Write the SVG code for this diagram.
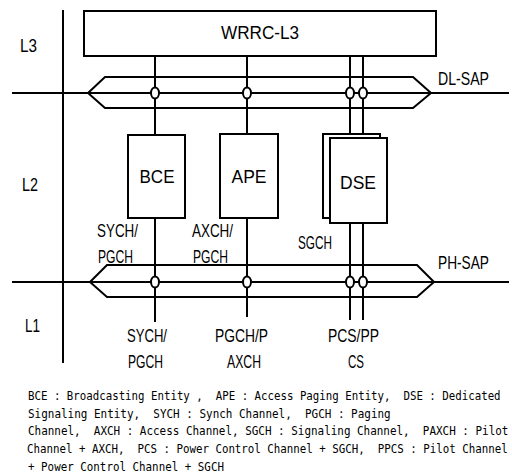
<svg xmlns="http://www.w3.org/2000/svg" width="512" height="474" viewBox="0 0 512 474">
<style>
.ln{stroke:#000;stroke-width:2;fill:none}
.bus{stroke:#000;stroke-width:2;fill:none;stroke-linejoin:miter}
.box{stroke:#000;stroke-width:2;fill:#fff}
.dot{stroke:#000;stroke-width:2;fill:#fff}
.lbl{font-family:"Liberation Sans",Arial,sans-serif;font-size:19px;fill:#000}
.nm{font-family:"Liberation Sans",Arial,sans-serif;font-size:19px;fill:#000;text-anchor:middle}
.cap{font-family:"DejaVu Sans Mono","Liberation Mono",monospace;font-size:13px;fill:#000;white-space:pre}
</style>
<rect width="512" height="474" fill="#fff"/>
<line class="ln" x1="63" y1="10" x2="63" y2="363"/>
<text class="lbl" x="20" y="52" textLength="17" lengthAdjust="spacingAndGlyphs">L3</text>
<text class="lbl" x="22" y="191" textLength="16" lengthAdjust="spacingAndGlyphs">L2</text>
<text class="lbl" x="25" y="332" textLength="15" lengthAdjust="spacingAndGlyphs">L1</text>

<g id="wrrc">
<rect class="box" x="84" y="11" width="352" height="45"/>
<text class="nm" x="260" y="39" textLength="78" lengthAdjust="spacingAndGlyphs">WRRC-L3</text>
</g>

<g id="connectors">
<line class="ln" x1="155" y1="56" x2="155" y2="135"/>
<line class="ln" x1="247" y1="56" x2="247" y2="134"/>
<line class="ln" x1="350" y1="56" x2="350" y2="134"/>
<line class="ln" x1="363" y1="56" x2="363" y2="134"/>
<line class="ln" x1="155" y1="218" x2="155" y2="322"/>
<line class="ln" x1="247" y1="218" x2="247" y2="317"/>
<line class="ln" x1="350" y1="223" x2="350" y2="320"/>
<line class="ln" x1="363" y1="223" x2="363" y2="320"/>
</g>

<g id="dl-sap">
<line class="ln" x1="12" y1="93" x2="509" y2="93"/>
<polygon class="bus" points="105,77 413,77 431,93 413,108 105,108 88,93"/>
<ellipse class="dot" cx="155" cy="93" rx="4" ry="5.5"/>
<ellipse class="dot" cx="247" cy="93" rx="4" ry="5.5"/>
<ellipse class="dot" cx="350" cy="93" rx="4" ry="5.5"/>
<ellipse class="dot" cx="363" cy="93" rx="4" ry="5.5"/>
<text class="lbl" x="438" y="85" textLength="51" lengthAdjust="spacingAndGlyphs">DL-SAP</text>
</g>

<g id="ph-sap">
<line class="ln" x1="12" y1="282" x2="509" y2="282"/>
<polygon class="bus" points="107,265 417,265 434,282 417,297 107,297 90,282"/>
<ellipse class="dot" cx="155" cy="282" rx="4" ry="5.5"/>
<ellipse class="dot" cx="247" cy="282" rx="4" ry="5.5"/>
<ellipse class="dot" cx="350" cy="282" rx="4" ry="5.5"/>
<ellipse class="dot" cx="363" cy="282" rx="4" ry="5.5"/>
<text class="lbl" x="438" y="269" textLength="51" lengthAdjust="spacingAndGlyphs">PH-SAP</text>
</g>

<g id="bce">
<rect class="box" x="128" y="135" width="57" height="83"/>
<text class="nm" x="157" y="183" textLength="35" lengthAdjust="spacingAndGlyphs">BCE</text>
</g>
<g id="ape">
<rect class="box" x="220" y="134" width="58" height="84"/>
<text class="nm" x="249" y="183" textLength="35" lengthAdjust="spacingAndGlyphs">APE</text>
</g>
<g id="dse">
<rect class="box" x="323" y="134" width="57" height="84"/>
<rect class="box" x="330" y="138" width="57" height="85"/>
<text class="nm" x="358" y="189" textLength="36" lengthAdjust="spacingAndGlyphs">DSE</text>
</g>

<g id="labels">
<text class="lbl" x="97" y="237" textLength="41" lengthAdjust="spacingAndGlyphs">SYCH/</text>
<text class="lbl" x="98" y="263" textLength="35" lengthAdjust="spacingAndGlyphs">PGCH</text>
<text class="lbl" x="192" y="237" textLength="41" lengthAdjust="spacingAndGlyphs">AXCH/</text>
<text class="lbl" x="193" y="263" textLength="35" lengthAdjust="spacingAndGlyphs">PGCH</text>
<text class="lbl" x="298" y="249" textLength="34" lengthAdjust="spacingAndGlyphs">SGCH</text>
<text class="lbl" x="127" y="342" textLength="40" lengthAdjust="spacingAndGlyphs">SYCH/</text>
<text class="lbl" x="128" y="368" textLength="35" lengthAdjust="spacingAndGlyphs">PGCH</text>
<text class="lbl" x="215" y="342" textLength="53" lengthAdjust="spacingAndGlyphs">PGCH/P</text>
<text class="lbl" x="227" y="368" textLength="34" lengthAdjust="spacingAndGlyphs">AXCH</text>
<text class="lbl" x="328" y="342" textLength="51" lengthAdjust="spacingAndGlyphs">PCS/PP</text>
<text class="lbl" x="348" y="368" textLength="16" lengthAdjust="spacingAndGlyphs">CS</text>
</g>

<g id="caption">
<text class="cap" transform="translate(28,400) scale(0.828,1)">BCE : Broadcasting Entity ,  APE : Access Paging Entity,  DSE : Dedicated</text>
<text class="cap" transform="translate(28,418) scale(0.843,1)">Signaling Entity,  SYCH : Synch Channel,  PGCH : Paging</text>
<text class="cap" transform="translate(28,435) scale(0.842,1)">Channel,  AXCH : Access Channel, SGCH : Signaling Channel,  PAXCH : Pilot</text>
<text class="cap" transform="translate(27,453) scale(0.831,1)">Channel + AXCH,  PCS : Power Control Channel + SGCH,  PPCS : Pilot Channel</text>
<text class="cap" transform="translate(28,471) scale(0.835,1)">+ Power Control Channel + SGCH</text>
</g>
</svg>
